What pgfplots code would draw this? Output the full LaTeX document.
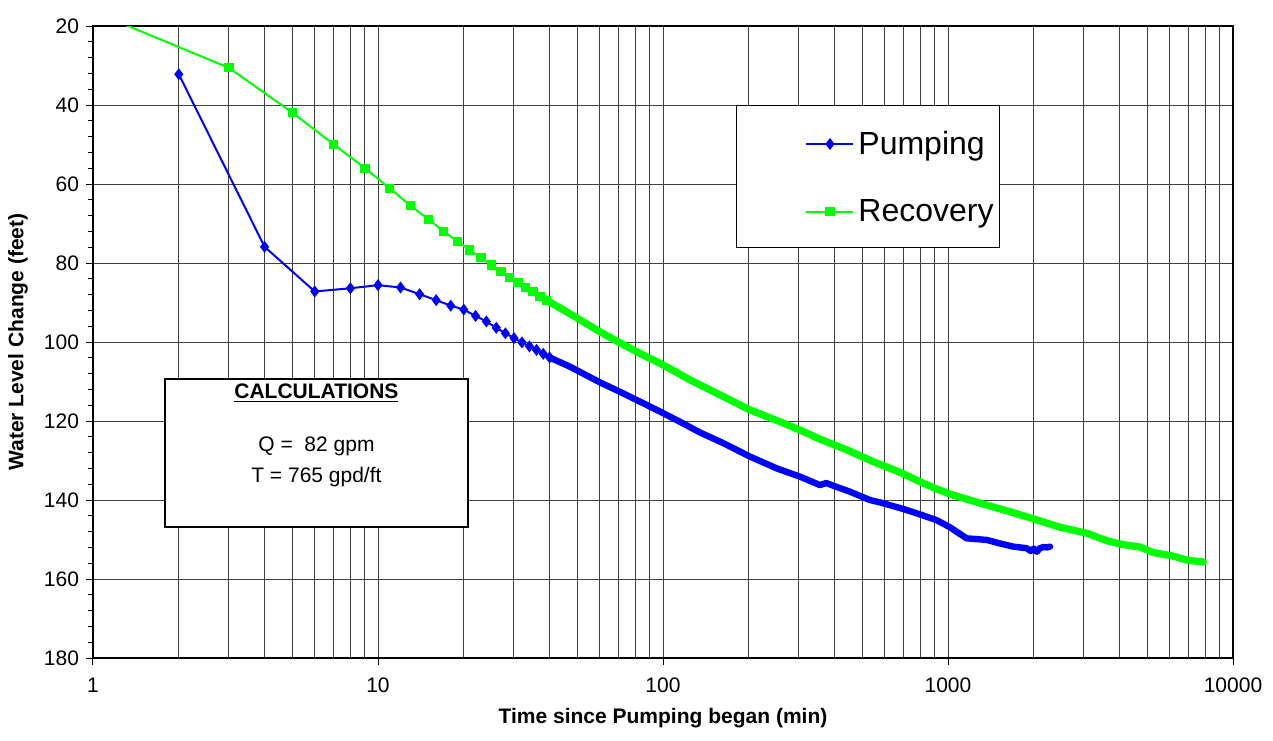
\documentclass[border=0pt]{standalone}
\usepackage{pgfplots}
\pgfplotsset{compat=1.18}
\usepackage{fontspec}
\setmainfont{Liberation Sans}
\definecolor{pblue}{RGB}{0,0,255}
\definecolor{rgreen}{RGB}{0,255,0}

\pgfplotstableread{
t v
2 32.2
4 75.9
6 87.2
8 86.4
10 85.6
12 86.2
14 87.9
16 89.4
18 90.8
20 91.8
22 93.4
24 94.8
26 96.4
28 97.8
30 99.0
32 100.1
34 101.1
36 102.0
38 103.0
40 103.9
}\pumpA

\pgfplotstableread{
t v
40 103.9
47 106.2
60 110.2
70.6 112.6
83 115.1
97.6 117.6
114.7 120.2
134.8 122.9
162.8 125.6
201.8 129.0
250.9 132.0
302.6 134.1
355 136.2
374 135.7
400 136.5
453 137.9
532 140.0
577 140.6
707 142.4
809 143.8
912 145.1
1016 146.9
1070 148.0
1162 149.7
1367 150.1
1522 151.0
1694 151.8
1888 152.2
1950 152.9
2000 152.3
2050 153.1
2100 152.2
2160 151.9
2220 152.0
2280 151.8
}\pumpB

\pgfplotstableread{
t v
1 16.3
3 30.6
5 41.9
7 50.0
9 56.0
11 61.1
13 65.5
15 68.9
17 72.0
19 74.5
21 76.7
23 78.7
25 80.5
27 82.2
29 83.6
31 84.9
33 86.1
35 87.3
37 88.4
39 89.4
}\recA

\pgfplotstableread{
t v
39 89.4
47 92.8
60 97.4
70.6 100.2
83 102.9
97.6 105.4
113 107.9
124.4 109.6
158.5 113.4
201.8 117.2
257.6 120.2
302.6 122.3
355.5 124.6
441 127.3
547 130.3
679 133.0
809 135.6
912 137.2
1016 138.5
1295 140.8
1694 143.2
2020 144.9
2472 146.9
3067 148.4
3605 150.3
4121 151.3
4721 151.9
5250 153.3
6173 154.2
6878 155.2
7870 155.7
}\recB

\begin{document}
\begin{tikzpicture}
\useasboundingbox (-46.5pt,-41pt) rectangle (590pt,329pt);
\begin{axis}[
  scale only axis, width=570pt, height=316pt,
  xmode=log, log basis x=10,
  xmin=1, xmax=10000, ymin=20, ymax=180, y dir=reverse,
  xtick={1,10,100,1000,10000},
  xticklabels={1,10,100,1000,10000},
  minor xtick={2,3,4,5,6,7,8,9,20,30,40,50,60,70,80,90,200,300,400,500,600,700,800,900,2000,3000,4000,5000,6000,7000,8000,9000},
  ytick={20,40,...,180},
  minor y tick num=4,
  xtick pos=bottom, ytick pos=left,
  xmajorgrids, xminorgrids, ymajorgrids,
  major grid style={black!75, line width=0.5pt},
  minor grid style={black!75, line width=0.5pt},
  axis line style={black, line width=0.6pt},
  tick align=outside,
  major tick length=3.5pt,
  minor tick length=2.5pt,
  minor x tick style={draw=none},
  tick style={black, line width=0.5pt},
  /pgf/number format/assume math mode=true,
  ticklabel style={font=\fontsize{10.5}{12}\selectfont},
  xticklabel style={yshift=-3pt},
  xlabel={\bfseries Time since Pumping began (min)},
  ylabel={\bfseries Water Level Change (feet)},
  label style={font=\fontsize{10.5}{12}\selectfont},
  xlabel style={at={(axis description cs:0.5,-0.0949)}, anchor=center},
  ylabel style={at={(axis description cs:-0.0658,0.5)}, anchor=center},
  legend style={draw=none, fill=none, inner sep=0pt, row sep=17pt,
    font=\fontsize{16}{19}\selectfont,
    at={(axis description cs:0.6246,0.7603)}, anchor=west},
  legend cell align=left,
  legend image code/.code={\draw[mark repeat=2,mark phase=2] plot coordinates {(0pt,0pt) (11.75pt,0pt) (23.5pt,0pt)};},
]
\draw[fill=white, line width=0.5pt] (axis description cs:0.5649,0.875) rectangle (axis description cs:0.7956,0.650);
\draw[fill=white, line width=0.9pt] (axis description cs:0.0632,0.4415) rectangle (axis description cs:0.3289,0.2073);
\node[font=\fontsize{10.5}{12}\selectfont\bfseries] at (axis description cs:0.196,0.4193) {\underline{CALCULATIONS}};
\node[font=\fontsize{10.5}{12}\selectfont] at (axis description cs:0.196,0.3354) {Q =\ \ 82 gpm};
\node[font=\fontsize{10.5}{12}\selectfont] at (axis description cs:0.196,0.2864) {T = 765 gpd/ft};

\addplot[pblue, line width=1pt, mark=diamond*, mark size=2.2pt] table[x=t,y=v] {\pumpA};
\addlegendentry{Pumping}
\addplot[pblue, line width=3.2pt, line join=round, line cap=round, forget plot] table[x=t,y=v] {\pumpB};
\addplot[rgreen, line width=1pt, mark=square*, mark size=1.8pt] table[x=t,y=v] {\recA};
\addlegendentry{Recovery}
\addplot[rgreen, line width=3.6pt, line join=round, line cap=round, forget plot] table[x=t,y=v] {\recB};
\end{axis}
\end{tikzpicture}
\end{document}
